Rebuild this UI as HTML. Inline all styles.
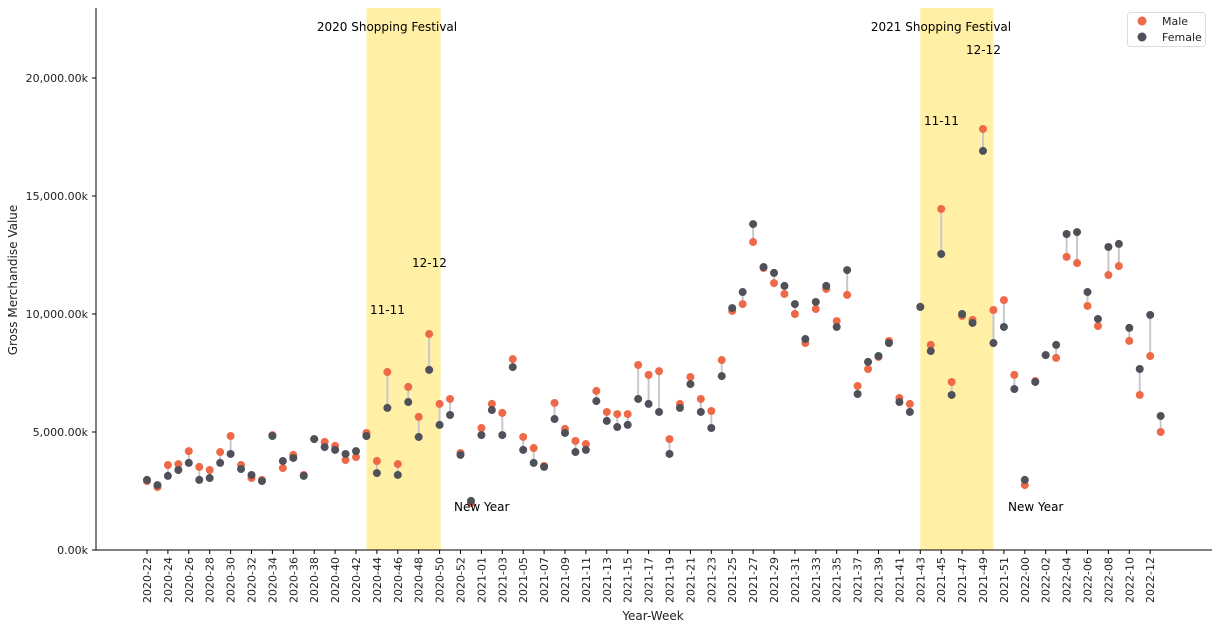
<!DOCTYPE html>
<html><head><meta charset="utf-8">
<style>
body{margin:0;background:#fff;}
svg{display:block;font-family:"DejaVu Sans","Liberation Sans",sans-serif;}
</style></head>
<body>
<svg id="chart" width="1219" height="630"></svg>
<script>
const weeks=["2020-22","2020-23","2020-24","2020-25","2020-26","2020-27","2020-28","2020-29","2020-30","2020-31","2020-32","2020-33","2020-34","2020-35","2020-36","2020-37","2020-38","2020-39","2020-40","2020-41","2020-42","2020-43","2020-44","2020-45","2020-46","2020-47","2020-48","2020-49","2020-50","2020-51","2020-52","2020-53",
"2021-01","2021-02","2021-03","2021-04","2021-05","2021-06","2021-07","2021-08","2021-09","2021-10","2021-11","2021-12","2021-13","2021-14","2021-15","2021-16","2021-17","2021-18","2021-19","2021-20","2021-21","2021-22","2021-23","2021-24","2021-25","2021-26","2021-27","2021-28","2021-29","2021-30","2021-31","2021-32","2021-33","2021-34","2021-35","2021-36","2021-37","2021-38","2021-39","2021-40","2021-41","2021-42","2021-43","2021-44","2021-45","2021-46","2021-47","2021-48","2021-49","2021-50","2021-51","2021-52",
"2022-00","2022-01","2022-02","2022-03","2022-04","2022-05","2022-06","2022-07","2022-08","2022-09","2022-10","2022-11","2022-12","2022-13"];
const male=[2920,2670,3600,3640,4190,3520,3390,4150,4830,3600,3050,2970,4870,3470,4030,3180,4700,4580,4410,3810,3940,4960,3770,7540,3640,6910,5640,9150,6190,6400,4110,1990,
5170,6190,5810,8090,4790,4320,3560,6230,5130,4620,4490,6740,5850,5760,5760,7840,7420,7580,4700,6190,7330,6400,5890,8050,10130,10420,13050,11950,11310,10850,10000,8770,10210,11060,9700,10810,6950,7670,8180,8860,6440,6190,10300,8690,14450,7120,9920,9750,17840,10170,10590,7420,
2750,7160,8260,8140,12420,12160,10340,9490,11650,12030,8860,6570,8220,5000];
const female=[2970,2750,3140,3390,3690,2970,3050,3690,4070,3430,3180,2920,4830,3770,3900,3140,4700,4360,4240,4070,4190,4830,3260,6020,3180,6270,4790,7630,5300,5720,4030,2080,
4870,5930,4870,7750,4240,3690,3520,5550,4960,4150,4240,6310,5470,5210,5300,6400,6190,5850,4070,6020,7030,5850,5170,7370,10250,10930,13810,11990,11740,11190,10420,8940,10510,11190,9450,11860,6610,7970,8220,8770,6270,5850,10300,8430,12540,6570,10000,9620,16910,8770,9450,6820,
2970,7120,8260,8690,13390,13470,10930,9790,12840,12970,9410,7670,9960,5680];
const yTicks=[0,5000,10000,15000,20000];
const yTickLabels=["0.00k","5,000.00k","10,000.00k","15,000.00k","20,000.00k"];
const festivals=[{label:"2020 Shopping Festival",from:21,to:28.1},{label:"2021 Shopping Festival",from:74,to:81}];

const NS="http://www.w3.org/2000/svg";
const svg=document.getElementById('chart');
function el(t,a,p){const e=document.createElementNS(NS,t);for(const k in a)e.setAttribute(k,a[k]);(p||svg).appendChild(e);return e;}
const X=i=>147+i*10.45;
const Y=v=>550-v*0.0236;

festivals.forEach((f,k)=>{
  const r=el('rect',{x:X(f.from),y:8,width:X(f.to)-X(f.from),height:542,fill:'#fff0a6'});
  
  
});
// spines
const sl=el('line',{x1:96,y1:8,x2:96,y2:550,stroke:'#000','stroke-width':1});

const sb=el('line',{x1:96,y1:550,x2:1212,y2:550,stroke:'#000','stroke-width':1});


yTicks.forEach((v,k)=>{
  el('line',{x1:92,y1:Y(v),x2:96,y2:Y(v),stroke:'#000'});
  const t=el('text',{x:88,y:Y(v)+4,'text-anchor':'end','font-size':11,fill:'#222'});
  t.textContent=yTickLabels[k];
  
  
});
weeks.forEach((w,i)=>{
  if(i%2)return;
  el('line',{x1:X(i),y1:550,x2:X(i),y2:554,stroke:'#000'});
  const t=el('text',{x:0,y:0,'text-anchor':'end','font-size':11,fill:'#222',transform:`translate(${X(i)+4},557) rotate(-90)`});
  t.textContent=w;
  
  
});
weeks.forEach((w,i)=>{
  const l=el('line',{x1:X(i),y1:Y(male[i]),x2:X(i),y2:Y(female[i]),stroke:'#c8c8c8','stroke-width':2});
  
  
});
weeks.forEach((w,i)=>{
  const m=el('circle',{cx:X(i),cy:Y(male[i]),r:4,fill:'#ef6848'});
  
  
  const f=el('circle',{cx:X(i),cy:Y(female[i]),r:4,fill:'#4f515a'});
  
  
});
const notes=[["2020 Shopping Festival",387,31,'middle','festival-title-2020'],["2021 Shopping Festival",941,31,'middle','festival-title-2021'],
["11-11",370,314,'start','annotation-11-11-2020'],["12-12",412,267,'start','annotation-12-12-2020'],["New Year",454,511,'start','annotation-new-year-2021'],
["11-11",924,125,'start','annotation-11-11-2021'],["12-12",966,54,'start','annotation-12-12-2021'],["New Year",1008,511,'start','annotation-new-year-2022']];
notes.forEach(n=>{
  const t=el('text',{x:n[1],y:n[2],'text-anchor':n[3],'font-size':12,fill:'#000'});
  t.textContent=n[0];
  
  
});
const xt=el('text',{x:653,y:620,'text-anchor':'middle','font-size':12,fill:'#222'});xt.textContent='Year-Week';

const yt=el('text',{x:0,y:0,'text-anchor':'middle','font-size':12,fill:'#222',transform:'translate(17,280) rotate(-90)'});yt.textContent='Gross Merchandise Value';

// legend
const lg=el('g',{});

el('rect',{x:1127.5,y:12.5,width:78,height:34,rx:3,fill:'#fff',stroke:'#ddd'},lg);
el('circle',{cx:1142,cy:21,r:4.5,fill:'#ef6848'},lg);
el('circle',{cx:1142,cy:37,r:4.5,fill:'#4f515a'},lg);
const lm=el('text',{x:1162,y:25,'font-size':11,fill:'#222'},lg);lm.textContent='Male';

const lf=el('text',{x:1162,y:41,'font-size':11,fill:'#222'},lg);lf.textContent='Female';

</script>
</body></html>
